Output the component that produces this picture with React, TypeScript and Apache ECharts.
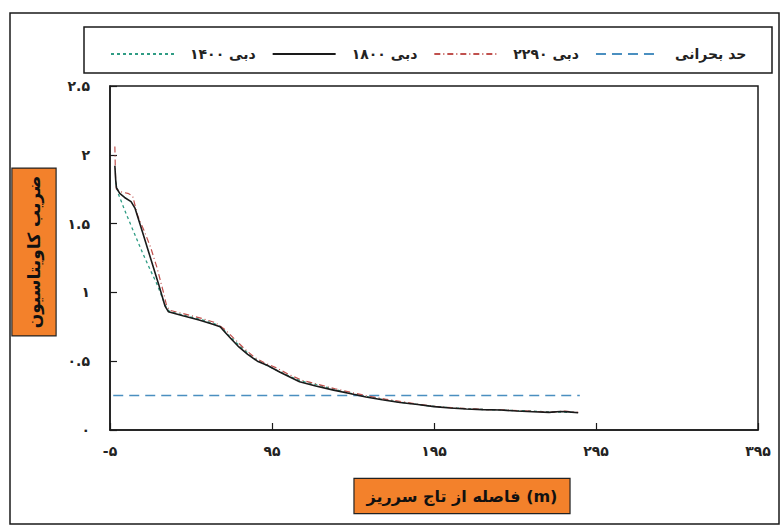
import React, { useEffect, useRef } from 'react';
import * as echarts from 'echarts';

const seriesNames = ['دبی ۱۴۰۰', 'دبی ۱۸۰۰', 'دبی ۲۲۹۰', 'حد بحرانی'];
const xTickLabels = ['-۵', '۹۵', '۱۹۵', '۲۹۵', '۳۹۵'];
const yTickLabels = ['۰', '۰.۵', '۱', '۱.۵', '۲', '۲.۵'];
const xTitle = 'فاصله از تاج سرریز (m)';
const yTitle = 'ضریب کاویتاسیون';

const flow1400: [number, number][] = [
  [-1.5, 1.8], [0, 1.72], [2, 1.66], [5, 1.57], [10, 1.43], [15, 1.29], [20, 1.16], [24, 1.06],
  [27, 0.97], [30, 0.88], [32, 0.86], [42, 0.83], [52, 0.8], [60, 0.77], [64, 0.745], [68, 0.69],
  [72, 0.645], [78, 0.58], [84, 0.52], [90, 0.48], [96, 0.445], [104, 0.4], [112, 0.36], [122, 0.33],
  [132, 0.3], [142, 0.27], [152, 0.245], [162, 0.225], [172, 0.205], [182, 0.19], [192, 0.175],
  [202, 0.165], [212, 0.157], [222, 0.15], [232, 0.147], [242, 0.142], [252, 0.14], [262, 0.134],
  [272, 0.13], [282, 0.128],
];

const flow1800: [number, number][] = [
  [-2, 1.92], [-1.5, 1.82], [-1, 1.76], [1, 1.72], [4, 1.69], [8, 1.66], [10.5, 1.61], [15, 1.44],
  [20, 1.25], [25, 1.06], [29, 0.9], [31, 0.86], [40, 0.83], [50, 0.8], [58, 0.77], [63, 0.75],
  [66, 0.71], [70, 0.66], [74, 0.61], [80, 0.55], [86, 0.5], [92, 0.47], [100, 0.42], [112, 0.35],
  [122, 0.32], [133, 0.29], [143, 0.265], [153, 0.24], [163, 0.22], [174, 0.2], [185, 0.185],
  [195, 0.17], [205, 0.16], [215, 0.153], [225, 0.148], [236, 0.145], [246, 0.138], [256, 0.133],
  [266, 0.128], [273, 0.135], [278, 0.132], [284, 0.125],
];

const flow2290: [number, number][] = [
  [-2, 2.06], [-1.8, 1.95], [-1.5, 1.8], [-1, 1.75], [2, 1.73], [6, 1.72], [9, 1.7], [12, 1.56],
  [16, 1.45], [20, 1.33], [24, 1.18], [28, 1.0], [30, 0.9], [32, 0.87], [42, 0.84], [52, 0.81],
  [60, 0.78], [66, 0.73], [72, 0.66], [78, 0.59], [84, 0.53], [90, 0.49], [98, 0.45], [106, 0.4],
  [114, 0.36], [124, 0.33], [134, 0.3], [145, 0.27], [155, 0.245], [165, 0.225], [176, 0.205],
  [186, 0.185], [196, 0.172], [206, 0.162], [216, 0.155], [228, 0.148], [238, 0.147], [248, 0.14],
  [258, 0.135], [268, 0.13], [276, 0.138], [284, 0.128],
];

const criticalX = [-3, 285];
const criticalValue = 0.25;

const FONT = "'DejaVu Sans', 'Noto Sans', sans-serif";
const ORANGE = '#F3812B';

export default function App() {
  const ref = useRef<HTMLDivElement>(null);
  useEffect(() => {
    const chart = echarts.init(ref.current!, null, { renderer: 'svg' });
    const option: any = {
      animation: false,
      backgroundColor: '#ffffff',
      textStyle: { fontFamily: FONT },
      grid: {
        left: 110, right: 23, top: 86, bottom: 95,
        show: true, borderColor: '#1a1a1a', borderWidth: 1.5, backgroundColor: 'transparent',
      },
      legend: {
        left: 105, top: 42, itemWidth: 63, itemHeight: 14, itemGap: 16,
        data: seriesNames,
        itemStyle: { color: 'transparent', borderColor: 'transparent', borderWidth: 0, opacity: 0 },
        textStyle: {
          fontSize: 14, fontWeight: 'bold', color: '#222', fontFamily: FONT, padding: [0, 0, 0, 11],
        },
      },
      xAxis: {
        type: 'value', min: -5, max: 395, interval: 100,
        axisLine: { show: true, onZero: false, lineStyle: { color: '#1a1a1a', width: 1.5 } },
        axisTick: { show: true, inside: true, length: 7, lineStyle: { color: '#1a1a1a', width: 1.2 } },
        axisLabel: {
          margin: 14, fontSize: 14, fontWeight: 'bold', color: '#222', fontFamily: FONT,
          formatter: (v: number) => xTickLabels[Math.round((v + 5) / 100)] ?? '',
        },
        splitLine: { show: false },
      },
      yAxis: {
        type: 'value', min: 0, max: 2.5, interval: 0.5,
        axisLine: { show: true, onZero: false, lineStyle: { color: '#1a1a1a', width: 1.5 } },
        axisTick: { show: true, inside: true, length: 7, lineStyle: { color: '#1a1a1a', width: 1.2 } },
        axisLabel: {
          margin: 20, fontSize: 14, fontWeight: 'bold', color: '#222', fontFamily: FONT,
          formatter: (v: number) => yTickLabels[Math.round(v / 0.5)] ?? '',
        },
        splitLine: { show: false },
      },
      graphic: [
        {
          type: 'rect', z: -10, silent: true,
          shape: { x: 10, y: 13, width: 769, height: 511 },
          style: { fill: 'none', stroke: '#1a1a1a', lineWidth: 1.5 },
        },
        {
          type: 'rect', z: -10, silent: true,
          shape: { x: 84, y: 27, width: 688, height: 46 },
          style: { fill: 'none', stroke: '#1a1a1a', lineWidth: 1.5 },
        },
        {
          type: 'text', x: 34, y: 252, rotation: Math.PI / 2, silent: true,
          style: {
            text: yTitle, fontSize: 17, fontWeight: 'bold', fontFamily: FONT, fill: '#111',
            align: 'center', verticalAlign: 'middle',
            backgroundColor: ORANGE, borderColor: '#222', borderWidth: 1.2, padding: [13, 7, 13, 7],
          },
        },
        {
          type: 'text', x: 462, y: 496, silent: true,
          style: {
            text: xTitle, fontSize: 16, fontWeight: 'bold', fontFamily: FONT, fill: '#111',
            align: 'center', verticalAlign: 'middle',
            backgroundColor: ORANGE, borderColor: '#222', borderWidth: 1.2, padding: [9, 12, 9, 12],
          },
        },
      ],
      series: [
        {
          name: seriesNames[0], type: 'line', data: flow1400, symbol: 'none', z: 2,
          itemStyle: { color: '#2f9c84' },
          lineStyle: { color: '#2f9c84', width: 1.3, type: [3, 3] },
        },
        {
          name: seriesNames[1], type: 'line', data: flow1800, symbol: 'none', z: 4,
          itemStyle: { color: '#1a1a1a' },
          lineStyle: { color: '#1a1a1a', width: 1.6, type: 'solid' },
        },
        {
          name: seriesNames[2], type: 'line', data: flow2290, symbol: 'none', z: 3,
          itemStyle: { color: '#c0504d' },
          lineStyle: { color: '#c0504d', width: 1.2, type: [6, 3, 1, 3] },
        },
        {
          name: seriesNames[3], type: 'line', symbol: 'none', z: 2,
          data: criticalX.map((x) => [x, criticalValue]),
          itemStyle: { color: '#4a8fc0' },
          lineStyle: { color: '#4a8fc0', width: 1.5, type: [10, 6] },
        },
      ],
    };
    chart.setOption(option);
    return () => chart.dispose();
  }, []);
  return (
    <div
      ref={ref}
      style={{ width: 781, height: 525, position: 'absolute', left: 0, top: 0, background: '#fff' }}
    />
  );
}
